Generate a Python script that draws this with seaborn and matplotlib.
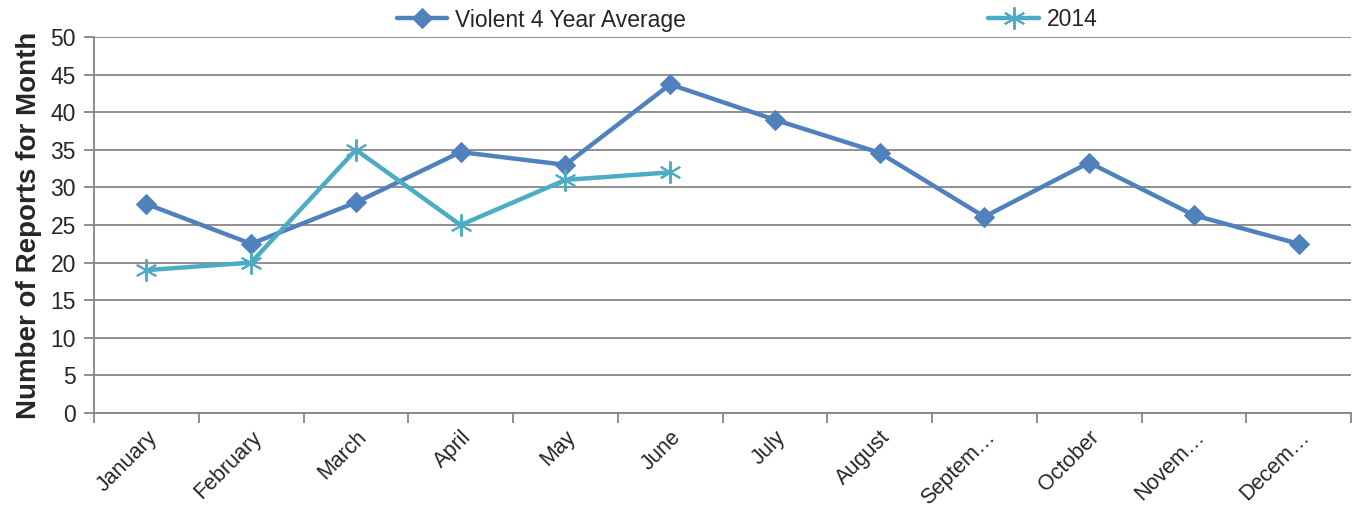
import numpy as np
import pandas as pd
import matplotlib
matplotlib.use("Agg")
import matplotlib.pyplot as plt
import seaborn as sns
from matplotlib.ticker import FixedLocator, NullFormatter

months = ["January", "February", "March", "April", "May", "June", "July",
          "August", "Septem…", "October", "Novem…", "Decem…"]
avg_values = [27.8, 22.5, 28.0, 34.7, 33.0, 43.7, 39.0, 34.6, 26.1, 33.3, 26.3, 22.5]
y2014_values = [19, 20, 35, 25, 31, 32]
avg_label = "Violent 4 Year Average"
y2014_label = "2014"
y_ticks = list(range(0, 55, 5))

sns.set_theme(style="white")
plt.rcParams["font.family"] = ["Liberation Sans", "DejaVu Sans"]

df_avg = pd.DataFrame({"month": months, "value": avg_values})
df_2014 = pd.DataFrame({"month": months[:len(y2014_values)], "value": y2014_values})

fig = plt.figure(figsize=(13.52, 5.15), dpi=100)
ax = fig.add_axes([94 / 1352, 102 / 515, 1257 / 1352, 376 / 515])

blue = "#4F81BD"
aqua = "#4BACC6"

sns.lineplot(data=df_avg, x="month", y="value", ax=ax, color=blue, lw=3.2,
             marker="D", markersize=10, markeredgecolor=blue, label=avg_label,
             sort=False)
sns.lineplot(data=df_2014, x="month", y="value", ax=ax, color=aqua, lw=3.2,
             marker=(6, 2, 0), markersize=16, markeredgewidth=1.4,
             markeredgecolor=aqua, label=y2014_label, sort=False)

ax.set_xlim(-0.5, len(months) - 0.5)
ax.set_ylim(0, 50)
ax.set_yticks(y_ticks)
ax.yaxis.grid(True, color="#868686", lw=1.3)
ax.set_axisbelow(True)

for side in ["top", "right"]:
    ax.spines[side].set_visible(False)
for side in ["left", "bottom"]:
    ax.spines[side].set_color("#868686")
    ax.spines[side].set_linewidth(1.3)

ax.set_xticks(range(len(months)))
ax.set_xticklabels(months, rotation=45, ha="right", rotation_mode="anchor",
                   fontsize=15.5)
ax.tick_params(axis="x", which="major", length=0, pad=10)
ax.xaxis.set_minor_locator(FixedLocator(np.arange(-0.5, len(months), 1.0)))
ax.xaxis.set_minor_formatter(NullFormatter())
ax.tick_params(axis="x", which="minor", length=7, width=1.3, color="#868686",
               bottom=True)
ax.tick_params(axis="y", length=7, width=1.3, color="#868686", labelsize=16.5,
               left=True, pad=6)

ax.set_xlabel("")
ax.set_ylabel("Number of Reports for Month", fontsize=20, fontweight="bold",
              labelpad=6)

ax.legend_.remove()
handles, labels = ax.get_legend_handles_labels()
fig.legend(handles, labels, loc="center", bbox_to_anchor=(747 / 1352, 1 - 20 / 515),
           ncol=2, frameon=False, fontsize=16.5, columnspacing=13.2,
           handlelength=2.2, handletextpad=0.35, borderaxespad=0)

fig.savefig("out.png", dpi=100)
